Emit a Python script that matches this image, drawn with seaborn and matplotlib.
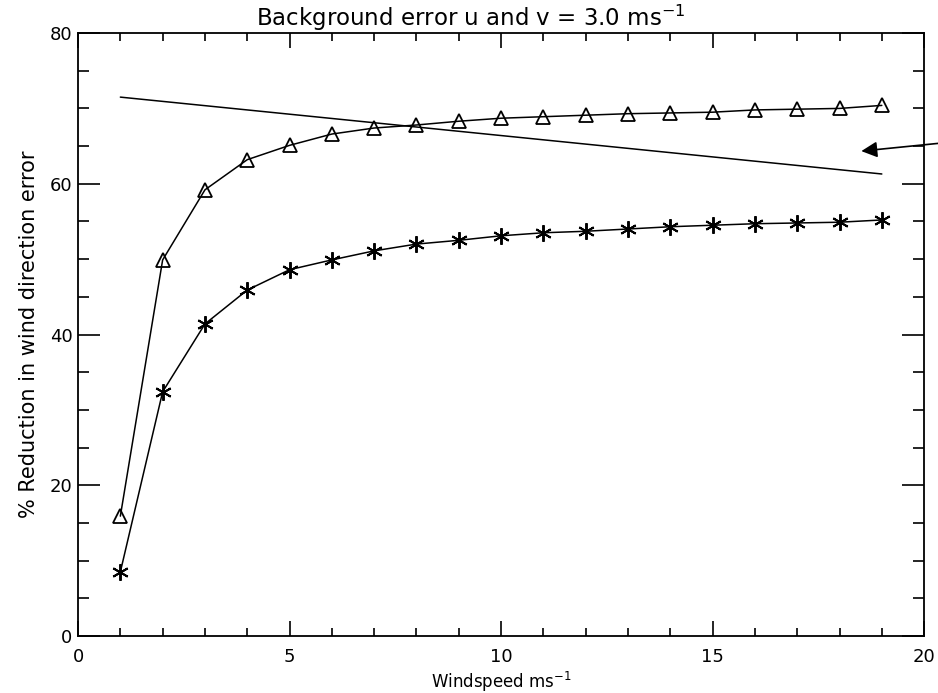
import numpy as np
import pandas as pd
import matplotlib
matplotlib.use("Agg")
import matplotlib.pyplot as plt
import seaborn as sns
from matplotlib.ticker import MultipleLocator

# ---- data ----
windspeed = list(range(1, 20))
triangle_vals = [15.9, 49.9, 59.2, 63.2, 65.1, 66.6, 67.4, 67.8, 68.3, 68.7,
                 68.9, 69.1, 69.3, 69.4, 69.5, 69.8, 69.9, 70.0, 70.4]
star_vals = [8.5, 32.4, 41.4, 45.9, 48.6, 49.9, 51.1, 52.0, 52.5, 53.1,
             53.5, 53.7, 54.0, 54.3, 54.5, 54.7, 54.8, 54.9, 55.2]
line_x = [1, 19]
line_y = [71.5, 61.3]

title = "Background error u and v = 3.0 ms$^{-1}$"
xlabel = "Windspeed ms$^{-1}$"
ylabel = "% Reduction in wind direction error"

sns.set_theme(style="white")
plt.rcParams['font.family'] = ['DejaVu Sans']
plt.rcParams['text.color'] = 'black'
plt.rcParams['axes.labelcolor'] = 'black'
plt.rcParams['xtick.color'] = 'black'
plt.rcParams['ytick.color'] = 'black'

fig = plt.figure(figsize=(9.38, 6.93), dpi=100)
ax = fig.add_axes([0.0832, 0.0823, 0.902, 0.870])

df_t = pd.DataFrame({"x": windspeed, "y": triangle_vals})
df_s = pd.DataFrame({"x": windspeed, "y": star_vals})
df_l = pd.DataFrame({"x": line_x, "y": line_y})

sns.lineplot(data=df_t, x="x", y="y", ax=ax, color="black", lw=1.1,
             marker="^", markersize=9.5, markerfacecolor="none",
             markeredgecolor="black", markeredgewidth=1.3)
sns.lineplot(data=df_s, x="x", y="y", ax=ax, color="black", lw=1.1,
             marker=(6, 2, 0), markersize=12, markeredgecolor="black",
             markeredgewidth=1.4)
sns.lineplot(data=df_l, x="x", y="y", ax=ax, color="black", lw=1.1)

ax.annotate("", xy=(18.45, 64.3), xytext=(20.4, 65.4), xycoords="data",
            arrowprops=dict(arrowstyle="-|>", color="black", lw=1.2,
                            mutation_scale=24),
            annotation_clip=False)

ax.set_xlim(0, 20)
ax.set_ylim(0, 80)
ax.xaxis.set_major_locator(MultipleLocator(5))
ax.xaxis.set_minor_locator(MultipleLocator(1))
ax.yaxis.set_major_locator(MultipleLocator(20))
ax.yaxis.set_minor_locator(MultipleLocator(5))
ax.tick_params(which="both", direction="in", top=True, right=True,
               bottom=True, left=True, color="black", labelcolor="black",
               labelsize=13, width=1.2)
ax.tick_params(axis="x", which="major", length=11, pad=9)
ax.tick_params(axis="x", which="minor", length=5.5)
ax.tick_params(axis="y", which="major", length=16, pad=4)
ax.tick_params(axis="y", which="minor", length=8)
for s in ax.spines.values():
    s.set_color("black")
    s.set_linewidth(1.3)

ax.set_title(title, fontsize=16.5, pad=5, color="black", x=0.4645)
ax.set_xlabel(xlabel, fontsize=12, color="black")
ax.xaxis.set_label_coords(0.5, -0.056)
ax.set_ylabel(ylabel, fontsize=15, labelpad=8, color="black")

fig.savefig("out.png", dpi=100)
